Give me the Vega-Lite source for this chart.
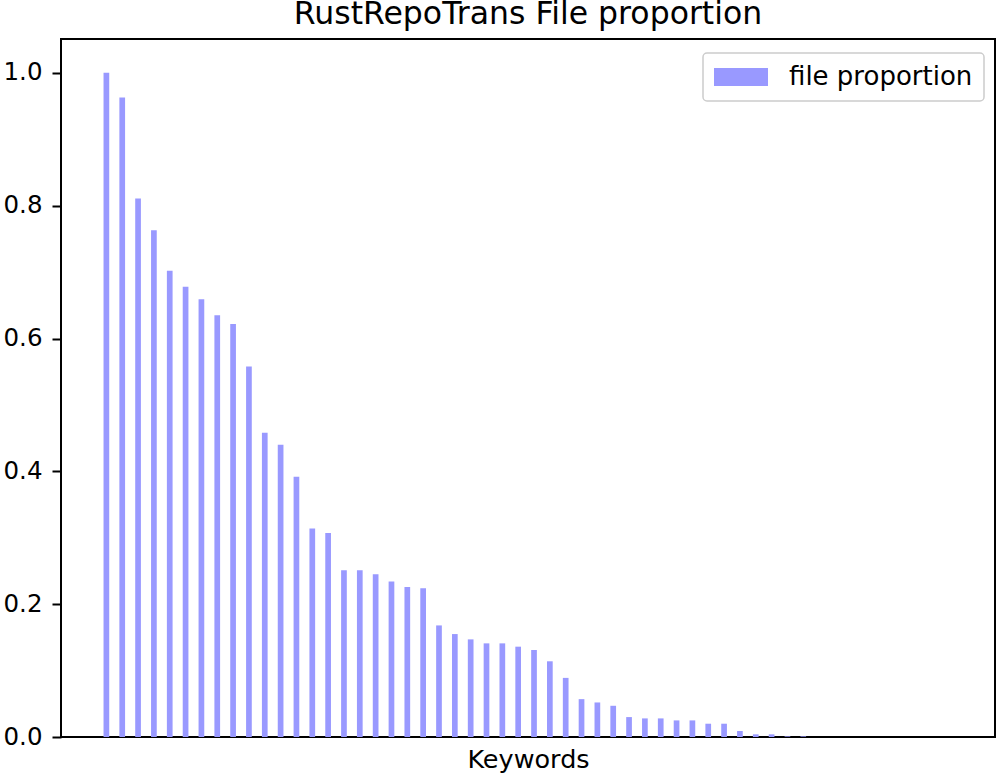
{
  "$schema": "https://vega.github.io/schema/vega-lite/v6.json",
  "width": 934,
  "height": 698,
  "autosize": {"type": "none"},
  "padding": {"left": 61, "top": 39, "right": 2, "bottom": 36},
  "background": "white",
  "title": {
    "text": "RustRepoTrans File proportion",
    "font": "DejaVu Sans",
    "fontSize": 31.5,
    "fontWeight": "normal",
    "color": "black",
    "anchor": "middle",
    "baseline": "bottom",
    "offset": 8,
    "dy": 31
  },
  "config": {
    "view": {"stroke": "black", "strokeWidth": 2},
    "font": "DejaVu Sans",
    "legend": {
      "strokeColor": "#cccccc",
      "strokeWidth": 1.5,
      "fillColor": "white",
      "cornerRadius": 4,
      "padding": 11
    }
  },
  "data": {
    "values": [
      {"rank": 0, "proportion": 1.000},
      {"rank": 1, "proportion": 0.963},
      {"rank": 2, "proportion": 0.811},
      {"rank": 3, "proportion": 0.763},
      {"rank": 4, "proportion": 0.702},
      {"rank": 5, "proportion": 0.678},
      {"rank": 6, "proportion": 0.659},
      {"rank": 7, "proportion": 0.635},
      {"rank": 8, "proportion": 0.622},
      {"rank": 9, "proportion": 0.558},
      {"rank": 10, "proportion": 0.458},
      {"rank": 11, "proportion": 0.440},
      {"rank": 12, "proportion": 0.392},
      {"rank": 13, "proportion": 0.314},
      {"rank": 14, "proportion": 0.307},
      {"rank": 15, "proportion": 0.251},
      {"rank": 16, "proportion": 0.251},
      {"rank": 17, "proportion": 0.245},
      {"rank": 18, "proportion": 0.234},
      {"rank": 19, "proportion": 0.226},
      {"rank": 20, "proportion": 0.224},
      {"rank": 21, "proportion": 0.168},
      {"rank": 22, "proportion": 0.155},
      {"rank": 23, "proportion": 0.147},
      {"rank": 24, "proportion": 0.141},
      {"rank": 25, "proportion": 0.141},
      {"rank": 26, "proportion": 0.136},
      {"rank": 27, "proportion": 0.131},
      {"rank": 28, "proportion": 0.114},
      {"rank": 29, "proportion": 0.089},
      {"rank": 30, "proportion": 0.057},
      {"rank": 31, "proportion": 0.052},
      {"rank": 32, "proportion": 0.047},
      {"rank": 33, "proportion": 0.030},
      {"rank": 34, "proportion": 0.028},
      {"rank": 35, "proportion": 0.028},
      {"rank": 36, "proportion": 0.025},
      {"rank": 37, "proportion": 0.025},
      {"rank": 38, "proportion": 0.020},
      {"rank": 39, "proportion": 0.020},
      {"rank": 40, "proportion": 0.009},
      {"rank": 41, "proportion": 0.004},
      {"rank": 42, "proportion": 0.004},
      {"rank": 43, "proportion": 0.001},
      {"rank": 44, "proportion": 0.001},
      {"rank": 45, "proportion": 0},
      {"rank": 46, "proportion": 0},
      {"rank": 47, "proportion": 0},
      {"rank": 48, "proportion": 0},
      {"rank": 49, "proportion": 0},
      {"rank": 50, "proportion": 0},
      {"rank": 51, "proportion": 0},
      {"rank": 52, "proportion": 0},
      {"rank": 53, "proportion": 0}
    ]
  },
  "mark": {"type": "bar", "width": 5.7, "opacity": 1},
  "encoding": {
    "x": {
      "field": "rank",
      "type": "quantitative",
      "scale": {"domain": [-2.55, 55.79], "nice": false, "zero": false},
      "axis": {
        "title": "Keywords",
        "titleFont": "DejaVu Sans",
        "titleFontSize": 25.5,
        "titleFontWeight": "normal",
        "titleColor": "black",
        "titleBaseline": "alphabetic",
        "titlePadding": 30,
        "labels": false,
        "ticks": false,
        "grid": false,
        "domain": false
      }
    },
    "y": {
      "field": "proportion",
      "type": "quantitative",
      "scale": {"domain": [0, 1.051], "nice": false, "zero": true},
      "axis": {
        "title": null,
        "values": [0, 0.2, 0.4, 0.6, 0.8, 1.0],
        "format": ".1f",
        "labelFont": "DejaVu Sans",
        "labelFontSize": 24.5,
        "labelColor": "black",
        "labelPadding": 10,
        "tickSize": 9,
        "tickWidth": 2,
        "tickColor": "black",
        "grid": false,
        "domain": false
      }
    },
    "color": {
      "datum": "file proportion",
      "type": "nominal",
      "scale": {"range": ["#9999ff"]},
      "legend": {
        "title": null,
        "orient": "none",
        "legendX": 642,
        "legendY": 14,
        "symbolType": "M-3,-1H3V1H-3Z",
        "symbolSize": 324,
        "symbolOffset": 14,
        "symbolStrokeWidth": 0,
        "symbolOpacity": 1,
        "labelFont": "DejaVu Sans",
        "labelFontSize": 26,
        "labelColor": "black",
        "labelOffset": 35,
        "labelLimit": 400
      }
    }
  }
}
